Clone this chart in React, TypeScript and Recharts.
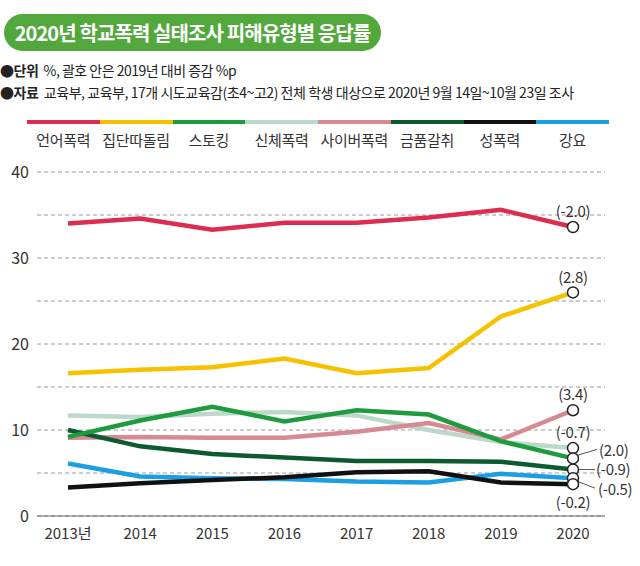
import { LineChart, Line, XAxis, YAxis, CartesianGrid } from "recharts";

const years = ["2013", "2014", "2015", "2016", "2017", "2018", "2019", "2020"];
const yearLabels = ["2013년", "2014", "2015", "2016", "2017", "2018", "2019", "2020"];

const seriesNames = ["언어폭력", "집단따돌림", "스토킹", "신체폭력", "사이버폭력", "금품갈취", "성폭력", "강요"];
const verbal = [34.0, 34.6, 33.3, 34.1, 34.1, 34.7, 35.6, 33.6];
const ostracism = [16.6, 17.0, 17.3, 18.3, 16.6, 17.2, 23.2, 26.0];
const stalking = [9.2, 11.1, 12.7, 11.0, 12.3, 11.8, 8.7, 6.7];
const physical = [11.7, 11.5, 11.9, 12.1, 11.7, 10.0, 8.6, 7.9];
const cyber = [9.1, 9.2, 9.1, 9.1, 9.8, 10.8, 8.9, 12.3];
const extortion = [10.0, 8.1, 7.2, 6.8, 6.4, 6.4, 6.3, 5.4];
const sexual = [3.3, 3.8, 4.2, 4.5, 5.1, 5.2, 3.9, 3.7];
const coercion = [6.1, 4.6, 4.4, 4.3, 4.0, 3.9, 4.9, 4.4];
const changes = ["(-2.0)", "(2.8)", "(2.0)", "(-0.7)", "(3.4)", "(-0.9)", "(-0.2)", "(-0.5)"];

const yTicks = [0, 5, 10, 15, 20, 25, 30, 35, 40];

const values = [verbal, ostracism, stalking, physical, cyber, extortion, sexual, coercion];
const data = years.map((y, i) => {
  const row: Record<string, any> = { year: y, label: yearLabels[i] };
  seriesNames.forEach((n, k) => (row[n] = values[k][i]));
  return row;
});

const colors: Record<string, string> = {
  언어폭력: "#dc2c4f",
  집단따돌림: "#f6c200",
  스토킹: "#1e9b3e",
  신체폭력: "#bcd8c8",
  사이버폭력: "#d58a94",
  금품갈취: "#0d5a30",
  성폭력: "#111111",
  강요: "#1b9fe2",
};

// where each end label sits relative to its circle
const labelPos: Record<string, { dx: number; dy: number; anchor: string; leader?: number[] }> = {
  언어폭력: { dx: 0, dy: -15, anchor: "middle" },
  집단따돌림: { dx: 0, dy: -15, anchor: "middle" },
  사이버폭력: { dx: 0, dy: -15, anchor: "middle" },
  신체폭력: { dx: 0, dy: -15, anchor: "middle" },
  스토킹: { dx: 26, dy: -8, anchor: "start", leader: [4, -3, 24, -9] },
  금품갈취: { dx: 23, dy: 0, anchor: "start", leader: [6, 0, 22, 0] },
  강요: { dx: 25, dy: 12, anchor: "start", leader: [4, 3, 22, 10] },
  성폭력: { dx: 0, dy: 19, anchor: "middle" },
};

const drawOrder = ["신체폭력", "사이버폭력", "금품갈취", "강요", "성폭력", "스토킹", "집단따돌림", "언어폭력"];
const font = "'Noto Sans CJK KR', 'Noto Sans', sans-serif";

const makeEndDot = (name: string) => (props: any) => {
  const { cx, cy, index } = props;
  if (index !== years.length - 1) return <g key={`${name}-${index}`} />;
  const p = labelPos[name];
  const text = changes[seriesNames.indexOf(name)];
  return (
    <g key={`${name}-end`}>
      {p.leader && (
        <line x1={cx + p.leader[0]} y1={cy + p.leader[1]} x2={cx + p.leader[2]} y2={cy + p.leader[3]} stroke="#555" strokeWidth={1} />
      )}
      <circle cx={cx} cy={cy} r={5.5} fill="#fff" stroke="#222" strokeWidth={1.5} />
      <text x={cx + p.dx} y={cy + p.dy} dy="0.35em" textAnchor={p.anchor} fontSize={15} fill="#333" fontFamily={font} letterSpacing={-0.3}>
        {text}
      </text>
    </g>
  );
};

export default function App() {
  return (
    <div style={{ position: "absolute", left: 0, top: 0, width: 640, height: 566, background: "#fff", fontFamily: font }}>
      <div
        style={{
          position: "absolute", left: 4, top: 14, width: 377, height: 37, borderRadius: 19,
          background: "#52a83c", color: "#fff", fontSize: 20, fontWeight: 700, lineHeight: "37px",
          textAlign: "center", letterSpacing: -0.9,
        }}
      >
        2020년 학교폭력 실태조사 피해유형별 응답률
      </div>
      <div style={{ position: "absolute", left: 0, top: 60, fontSize: 14, color: "#222", letterSpacing: -0.5, whiteSpace: "nowrap" }}>
        ●<b>단위</b>&nbsp; %, 괄호 안은 2019년 대비 증감 %p
      </div>
      <div style={{ position: "absolute", left: 0, top: 82, fontSize: 14, color: "#222", letterSpacing: -0.45, whiteSpace: "nowrap" }}>
        ●<b>자료</b>&nbsp; 교육부, 교육부, 17개 시도교육감(초4~고2) 전체 학생 대상으로 2020년 9월 14일~10월 23일 조사
      </div>
      <div style={{ position: "absolute", left: 27, top: 120, width: 582, display: "flex" }}>
        {seriesNames.map((n) => (
          <div key={n} style={{ flex: 1, textAlign: "center" }}>
            <div style={{ height: 4, background: colors[n] }} />
            <div style={{ fontSize: 15, color: "#333", marginTop: 5, letterSpacing: -0.3 }}>{n}</div>
          </div>
        ))}
      </div>
      <div style={{ position: "absolute", left: 0, top: 0 }}>
        <LineChart width={640} height={566} data={data} margin={{ top: 172, right: 35, bottom: 20, left: 0 }}>
          <CartesianGrid vertical={false} stroke="#9a9a9a" strokeDasharray="4 3" />
          <XAxis
            dataKey="label"
            padding={{ left: 31, right: 32 }}
            tickLine={false}
            axisLine={{ stroke: "#666", strokeWidth: 1 }}
            tick={{ fontSize: 15, fill: "#333", fontFamily: font, dy: 4 }}
            height={30}
          />
          <YAxis
            width={37}
            domain={[0, 40]}
            ticks={yTicks}
            tickFormatter={(v: number) => (v % 10 === 0 ? String(v) : "")}
            tickLine={false}
            axisLine={false}
            tick={{ fontSize: 16, fill: "#333", fontFamily: font }}
          />
          {drawOrder.map((n) => (
            <Line
              key={n}
              dataKey={n}
              stroke={colors[n]}
              strokeWidth={4.5}
              dot={false}
              activeDot={false}
              isAnimationActive={false}
            />
          ))}
          {drawOrder.map((n) => (
            <Line
              key={`${n}-end`}
              dataKey={n}
              stroke="none"
              legendType="none"
              dot={makeEndDot(n)}
              activeDot={false}
              isAnimationActive={false}
            />
          ))}
        </LineChart>
      </div>
    </div>
  );
}
